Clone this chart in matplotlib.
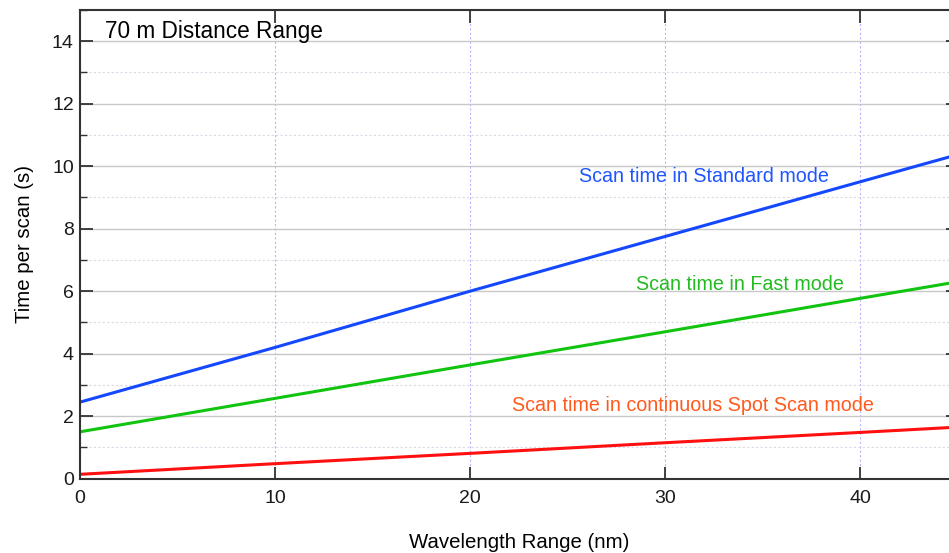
import matplotlib
matplotlib.use("Agg")
import matplotlib.pyplot as plt
from matplotlib.ticker import MultipleLocator

plt.rcParams['font.family'] = ['Liberation Sans', 'DejaVu Sans']

# values
wavelength = [0, 10, 20, 30, 40, 45]
standard_mode = [2.45, 4.2, 6.0, 7.75, 9.5, 10.37]
fast_mode = [1.5, 2.57, 3.64, 4.7, 5.77, 6.3]
spot_scan_mode = [0.14, 0.48, 0.81, 1.15, 1.48, 1.65]

fig = plt.figure(figsize=(9.49, 5.53), dpi=100)
ax = fig.add_axes([0.0843, 0.1344, 0.9247, 0.8476])

# grid first so lines sit on top
ax.yaxis.set_major_locator(MultipleLocator(2))
ax.yaxis.set_minor_locator(MultipleLocator(1))
ax.xaxis.set_major_locator(MultipleLocator(10))
ax.grid(axis='y', which='major', color='#c8c8c8', lw=1.0, ls='-')
ax.grid(axis='y', which='minor', color='#dadae6', lw=0.8, ls=(0, (2, 2)))
ax.grid(axis='x', which='major', color='#b4b4ff', lw=0.8, ls=(0, (2, 2)))
ax.set_axisbelow(True)

ax.plot(wavelength, standard_mode, color='#1448ff', lw=2.2)
ax.plot(wavelength, fast_mode, color='#10c410', lw=2.2)
ax.plot(wavelength, spot_scan_mode, color='#ff1010', lw=2.2)

ax.set_xlim(0, 45)
ax.set_ylim(0, 15)

ax.text(25.6, 9.66, "Scan time in Standard mode", color='#1f55ff', fontsize=14.2, va='center')
ax.text(28.5, 6.2, "Scan time in Fast mode", color='#22bb22', fontsize=14.2, va='center')
ax.text(22.15, 2.33, "Scan time in continuous Spot Scan mode", color='#ff5a1e', fontsize=14.2, va='center')
ax.text(1.28, 14.3, "70 m Distance Range", color='black', fontsize=16.3, va='center')

ax.set_xlabel("Wavelength Range (nm)", fontsize=14.7, labelpad=19)
ax.set_ylabel("Time per scan (s)", fontsize=14.7, labelpad=13)

for s in ax.spines.values():
    s.set_color('#333333')
    s.set_linewidth(1.5)

ax.tick_params(which='major', direction='in', length=9, width=1.3, color='#333333',
               top=True, right=True, labelsize=14, labelcolor='#1a1a1a')
ax.tick_params(axis='x', which='major', pad=8)
ax.tick_params(axis='y', which='major', pad=4.5)
ax.tick_params(which='minor', direction='in', length=5, width=1.0, color='#333333',
               top=False, right=True)

fig.savefig("out.png", dpi=100)
